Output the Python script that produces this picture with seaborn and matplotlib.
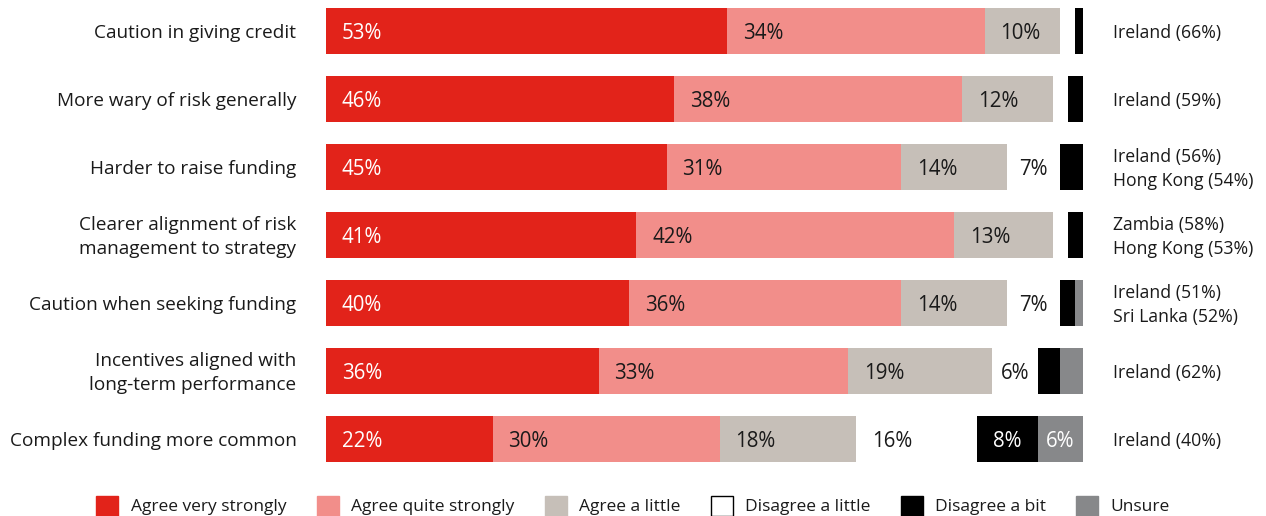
import matplotlib
matplotlib.use("Agg")
import matplotlib.pyplot as plt
import seaborn as sns
import pandas as pd
import numpy as np
from matplotlib.patches import Patch

categories = [
    "Caution in giving credit",
    "More wary of risk generally",
    "Harder to raise funding",
    "Clearer alignment of risk\nmanagement to strategy",
    "Caution when seeking funding",
    "Incentives aligned with\nlong-term performance",
    "Complex funding more common",
]
agree_very = [53, 46, 45, 41, 40, 36, 22]
agree_quite = [34, 38, 31, 42, 36, 33, 30]
agree_little = [10, 12, 14, 13, 14, 19, 18]
disagree_little = [2, 2, 7, 2, 7, 6, 16]
disagree_bit = [1, 2, 3, 2, 2, 3, 8]
unsure = [0, 0, 0, 0, 1, 3, 6]
annotations = [
    "Ireland (66%)",
    "Ireland (59%)",
    "Ireland (56%)\nHong Kong (54%)",
    "Zambia (58%)\nHong Kong (53%)",
    "Ireland (51%)\nSri Lanka (52%)",
    "Ireland (62%)",
    "Ireland (40%)",
]
series_names = ["Agree very strongly", "Agree quite strongly", "Agree a little",
                "Disagree a little", "Disagree a bit", "Unsure"]

colors = ["#E2231A", "#F28E8A", "#C6BFB8", "#FFFFFF", "#000000", "#87888A"]
text_colors = ["white", "#1a1a1a", "#1a1a1a", "#1a1a1a", "white", "white"]

sns.set_theme(style="white")
plt.rcParams["font.family"] = ["Open Sans", "DejaVu Sans"]

series = [agree_very, agree_quite, agree_little, disagree_little, disagree_bit, unsure]
df = pd.DataFrame({name: vals for name, vals in zip(series_names, series)})
df["category"] = categories
cum = df[series_names].cumsum(axis=1)

fig = plt.figure(figsize=(12.66, 5.16), dpi=100)
ax = fig.add_axes([326 / 1266, (516 - 470) / 516, (1083 - 326) / 1266, (470 - 5) / 516])

# draw cumulative layers from right to left
for i in range(len(series_names) - 1, -1, -1):
    d = pd.DataFrame({"category": categories, "value": cum[series_names[i]].values})
    sns.barplot(data=d, x="value", y="category", orient="h", color=colors[i],
                saturation=1, width=0.676, linewidth=0, ax=ax, order=categories)

ax.set_xlim(0, 100)
ax.set_ylim(6.456, -0.382)
ax.set_xlabel("")
ax.set_ylabel("")
ax.set_xticks([])
ax.set_yticks([])
for s in ax.spines.values():
    s.set_visible(False)

fs_pct = 14.8
fs_cat = 13.7
dy = 0.03
for r in range(len(categories)):
    left = 0
    for i, name in enumerate(series_names):
        v = series[i][r]
        if v >= 6:
            if v >= 10:
                ax.text(left + 2.1, r + dy, f"{v}%", ha="left", va="center",
                        color=text_colors[i], fontsize=fs_pct)
            else:
                ax.text(left + v / 2, r + dy, f"{v}%", ha="center", va="center",
                        color=text_colors[i], fontsize=fs_pct)
        left += v
    ax.text(-3.9, r + dy, categories[r], ha="right", va="center", fontsize=fs_cat,
            color="#1a1a1a", linespacing=1.38)
    ax.text(103.9, r + dy, annotations[r], ha="left", va="center", fontsize=12.7,
            color="#1a1a1a", linespacing=1.38)

handles = [Patch(facecolor=c, edgecolor=("black" if c == "#FFFFFF" else c), linewidth=1)
           for c in colors]
fig.legend(handles, series_names, loc="center", ncol=6, bbox_to_anchor=(0.5, 0.02),
           frameon=False, fontsize=12.5, handlelength=1.27, handleheight=1.4,
           columnspacing=1.75, handletextpad=0.7, labelcolor="#1a1a1a")

fig.savefig("out.png", dpi=100)
